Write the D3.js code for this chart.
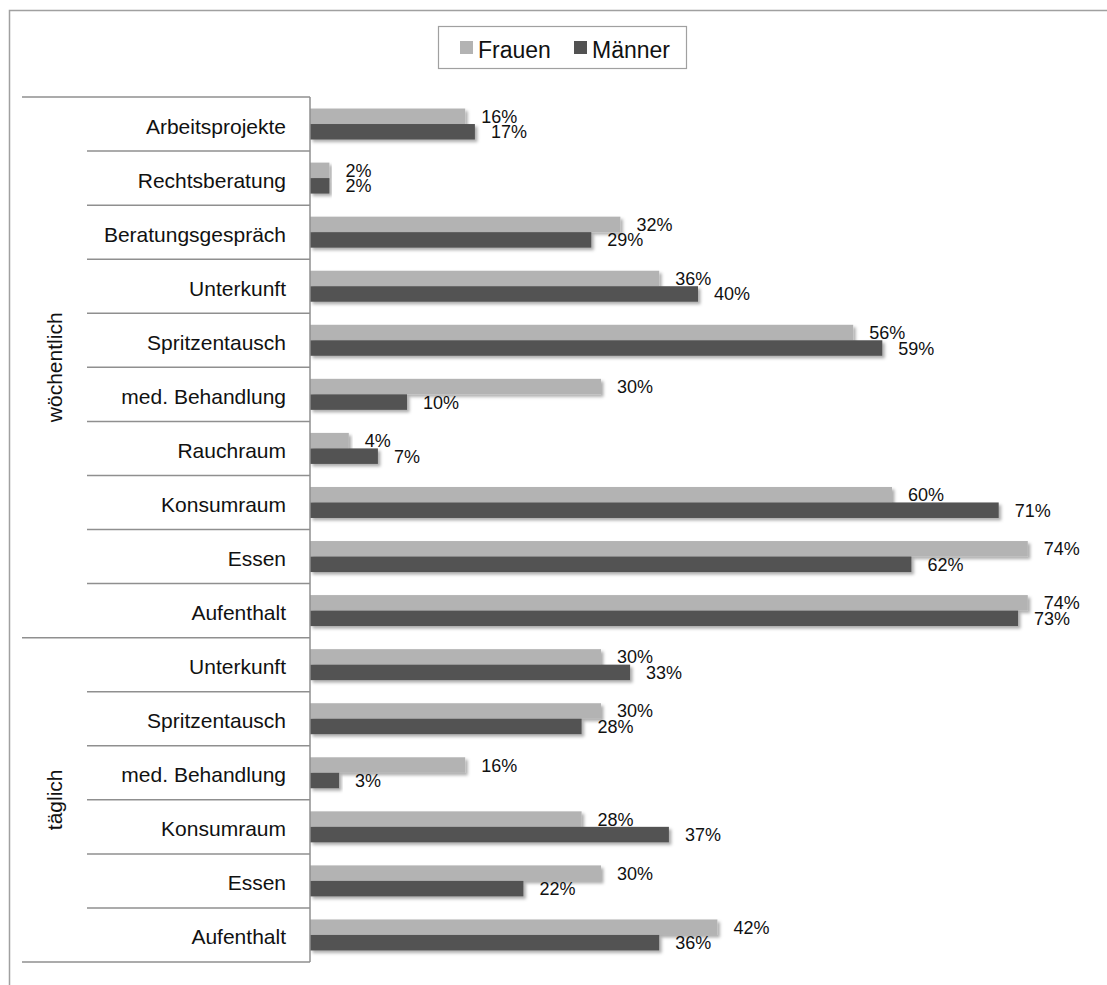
<!DOCTYPE html>
<html>
<head>
<meta charset="utf-8">
<script src="https://cdn.jsdelivr.net/npm/d3@7"></script>
<style>
  html, body { margin: 0; padding: 0; background: #fff; }
  svg { display: block; font-family: "Liberation Sans", Arial, sans-serif; }
</style>
</head>
<body>
<svg id="chart" width="1107" height="985"></svg>
<script>
// Usage of services by frequency group, women vs. men (percent)
const groups = ["wöchentlich", "täglich"];
const categories = [
  "Arbeitsprojekte", "Rechtsberatung", "Beratungsgespräch", "Unterkunft", "Spritzentausch",
  "med. Behandlung", "Rauchraum", "Konsumraum", "Essen", "Aufenthalt",
  "Unterkunft", "Spritzentausch", "med. Behandlung", "Konsumraum", "Essen", "Aufenthalt"
];
const categoryGroup = [
  "wöchentlich", "wöchentlich", "wöchentlich", "wöchentlich", "wöchentlich",
  "wöchentlich", "wöchentlich", "wöchentlich", "wöchentlich", "wöchentlich",
  "täglich", "täglich", "täglich", "täglich", "täglich", "täglich"
];
const frauen = [16, 2, 32, 36, 56, 30, 4, 60, 74, 74, 30, 30, 16, 28, 30, 42];
const maenner = [17, 2, 29, 40, 59, 10, 7, 71, 62, 73, 33, 28, 3, 37, 22, 36];
const seriesNames = ["Frauen", "Männer"];
const seriesColors = ["#b3b3b3", "#525252"];

const svg = d3.select("#chart");

// outer chart frame (continues past the right and bottom edges)
svg.append("rect")
  .attr("x", 9.5).attr("y", 10.5)
  .attr("width", 1120).attr("height", 1000)
  .attr("fill", "none").attr("stroke", "#a0a0a0").attr("stroke-width", 1.5);

// soft drop shadow under the bars
const defs = svg.append("defs");
const f = defs.append("filter").attr("id", "shadow")
  .attr("x", "-5%").attr("y", "-40%").attr("width", "115%").attr("height", "200%");
f.append("feDropShadow")
  .attr("dx", 2.5).attr("dy", 2.5).attr("stdDeviation", 1.6)
  .attr("flood-color", "#000").attr("flood-opacity", 0.32);

const rows = categories.map((c, i) => ({
  i, name: c, group: categoryGroup[i], values: [frauen[i], maenner[i]]
}));

const x = d3.scaleLinear().domain([0, 80]).range([310, 1086]);
const y = d3.scaleBand().domain(rows.map(r => r.i)).range([97, 962]).padding(0);
const ySub = d3.scaleBand().domain(seriesNames).range([0, y.bandwidth()])
  .paddingInner(0).paddingOuter(0.744);

// bars
const rowG = svg.append("g").selectAll("g").data(rows).join("g")
  .attr("transform", d => `translate(0,${y(d.i)})`);

rowG.selectAll("rect").data(d => d.values.map((v, k) => ({ v, k })))
  .join("rect")
  .attr("x", x(0))
  .attr("y", d => ySub(seriesNames[d.k]))
  .attr("width", d => x(d.v) - x(0))
  .attr("height", ySub.bandwidth())
  .attr("fill", d => seriesColors[d.k])
  .attr("filter", "url(#shadow)");

// value labels
rowG.selectAll("text.val").data(d => d.values.map((v, k) => ({ v, k })))
  .join("text")
  .attr("class", "val")
  .attr("x", d => x(d.v) + 16)
  .attr("y", d => ySub(seriesNames[d.k]) + ySub.bandwidth() / 2 + 6.5)
  .attr("font-size", 18)
  .attr("fill", "#111")
  .text(d => d.v + "%");

// category axis
const axisColor = "#8f8f8f";
const axisG = svg.append("g");
axisG.append("line")
  .attr("x1", x(0)).attr("x2", x(0))
  .attr("y1", y.range()[0]).attr("y2", y.range()[1])
  .attr("stroke", axisColor).attr("stroke-width", 1.5);

// row boundaries: long ticks at group edges, short ticks inside groups
const boundaries = d3.range(rows.length + 1).map(k => {
  const yy = k < rows.length ? y(k) : y.range()[1];
  const isGroupEdge = k === 0 || k === rows.length || categoryGroup[k] !== categoryGroup[k - 1];
  return { yy, isGroupEdge };
});
axisG.selectAll("line.tick").data(boundaries).join("line")
  .attr("class", "tick")
  .attr("x1", d => d.isGroupEdge ? 22 : 87)
  .attr("x2", x(0))
  .attr("y1", d => d.yy).attr("y2", d => d.yy)
  .attr("stroke", axisColor).attr("stroke-width", 1.5);

axisG.selectAll("text.cat").data(rows).join("text")
  .attr("class", "cat")
  .attr("x", 286)
  .attr("y", d => y(d.i) + y.bandwidth() / 2 + 9.5)
  .attr("text-anchor", "end")
  .attr("font-size", 21)
  .attr("fill", "#111")
  .text(d => d.name);

// group labels, rotated
groups.forEach(g => {
  const idx = rows.filter(r => r.group === g).map(r => r.i);
  const cy = (y(d3.min(idx)) + y(d3.max(idx)) + y.bandwidth()) / 2;
  axisG.append("text")
    .attr("transform", `translate(62,${cy}) rotate(-90)`)
    .attr("text-anchor", "middle")
    .attr("font-size", 21)
    .attr("fill", "#111")
    .text(g);
});

// legend
const lg = svg.append("g");
lg.append("rect")
  .attr("x", 438.5).attr("y", 26.5).attr("width", 248).attr("height", 42)
  .attr("fill", "#fff").attr("stroke", "#a0a0a0").attr("stroke-width", 1.2);
const legendX = [460, 574];
seriesNames.forEach((s, k) => {
  lg.append("rect")
    .attr("x", legendX[k]).attr("y", 41).attr("width", 13).attr("height", 13)
    .attr("fill", seriesColors[k]);
  lg.append("text")
    .attr("x", legendX[k] + 18).attr("y", 57.5)
    .attr("font-size", 23).attr("fill", "#111")
    .text(s);
});
</script>
</body>
</html>
